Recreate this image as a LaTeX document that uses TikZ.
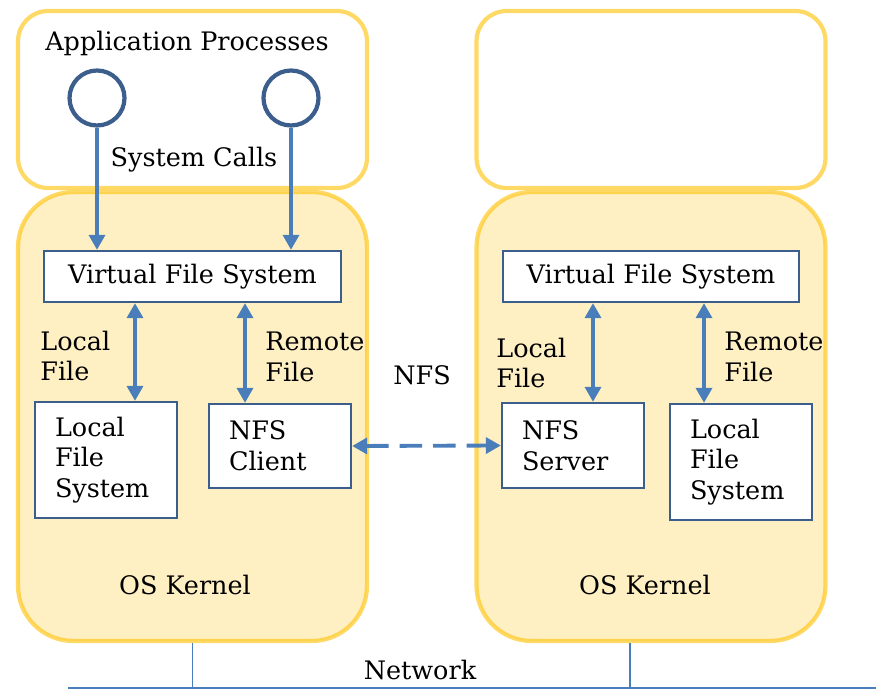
\documentclass[tikz,border=0pt]{standalone}
\usepackage{fontspec}
\setmainfont{DejaVu Serif}
\usetikzlibrary{arrows.meta}

\definecolor{gold}{HTML}{FFC000}
\definecolor{cream}{HTML}{FFF0C4}
\definecolor{arrowblue}{HTML}{4A7EBB}
\definecolor{darkblue}{HTML}{3B5E8C}

\tikzstyle{Host}=[rectangle, rounded corners=0.6cm, draw=gold, draw opacity=0.6, line width=2.4pt, minimum width=6.98cm, minimum height=3.54cm]
\tikzstyle{Kernel}=[rectangle, rounded corners=1.1cm, draw=gold, draw opacity=0.6, fill=cream, line width=2.4pt, minimum width=6.98cm, minimum height=8.98cm]
\tikzstyle{Proc}=[circle, draw=darkblue, line width=2.4pt, minimum size=1.1cm, inner sep=0]
\tikzstyle{Block}=[rectangle, draw=darkblue, line width=1.3pt, fill=white, text width=2.04cm, inner xsep=0.4cm, align=left, minimum width=2.84cm]
\tikzstyle{Vfs}=[rectangle, draw=darkblue, line width=1.3pt, fill=white, text width=5.5cm, align=center, minimum height=1.02cm]
\tikzstyle{Label}=[inner sep=0, align=left, anchor=west]
\tikzstyle{Call}=[draw=arrowblue, line width=2.2pt, -{Triangle[width=9pt,length=8.5pt]}]
\tikzstyle{Link}=[draw=arrowblue, line width=2.2pt, {Triangle[width=9pt,length=8.5pt]}-{Triangle[width=9pt,length=8.5pt]}]

\begin{document}
\begin{tikzpicture}[x=0.02cm, y=-0.02cm, font=\fontsize{14.5}{17.5}\selectfont]
    \useasboundingbox (0,0) rectangle (876,689);

    % hosts
    \path
    (192.5,99.5) node[Host] (appL) {}
    (651,99.5) node[Host] (appR) {}
    (192.5,416.5) node[Kernel] (kernL) {}
    (651,416.5) node[Kernel] (kernR) {};

    \path
    (187,43) node (apps) {Application Processes}
    (97,98) node[Proc] (procA) {}
    (291,98) node[Proc] (procB) {}
    (194,160) node (calls) {System Calls};

    % client side
    \path
    (192.5,276.5) node[Vfs, minimum width=5.94cm] (vfsL) {Virtual File System}
    (106,460) node[Block, minimum height=2.32cm] (lfsL) {Local\\File\\System}
    (280,446) node[Block, minimum height=1.68cm] (nfsC) {NFS\\Client};

    % server side
    \path
    (651,276.5) node[Vfs, minimum width=5.92cm] (vfsR) {Virtual File System}
    (573,445.5) node[Block, minimum height=1.7cm] (nfsS) {NFS\\Server}
    (741,462) node[Block, minimum height=2.32cm] (lfsR) {Local\\File\\System};

    \path
    (40,356) node[Label] (locL) {Local\\File}
    (265,357) node[Label] (remL) {Remote\\File}
    (496,363) node[Label] (locR) {Local\\File}
    (724,357) node[Label] (remR) {Remote\\File}
    (422,375) node (nfs) {NFS}
    (185,585) node (osL) {OS Kernel}
    (645,585) node (osR) {OS Kernel}
    (420,670) node (net) {Network};

    \draw[Call] (procA.south) -- (procA.south |- vfsL.north);
    \draw[Call] (procB.south) -- (procB.south |- vfsL.north);

    \draw[Link] ([xshift=0.58cm]lfsL.north |- vfsL.south) -- ([xshift=0.58cm]lfsL.north);
    \draw[Link] ([xshift=-0.7cm]nfsC.north |- vfsL.south) -- ([xshift=-0.7cm]nfsC.north);
    \draw[Link] ([xshift=0.4cm]nfsS.north |- vfsR.south) -- ([xshift=0.4cm]nfsS.north);
    \draw[Link] ([xshift=-0.74cm]lfsR.north |- vfsR.south) -- ([xshift=-0.74cm]lfsR.north);

    \draw[Link, dash pattern=on 0.45cm off 0.22cm] (nfsC.east) -- (nfsS.west);

    % network
    \coordinate (netL) at (68,688);
    \coordinate (netR) at (876,688);
    \draw[arrowblue, line width=0.8pt] (netL) -- (netR);
    \draw[arrowblue, line width=0.8pt] (kernL.south) -- (kernL.south |- netL);
    \draw[arrowblue, line width=0.8pt] ([xshift=-0.42cm]kernR.south) -- ([xshift=-0.42cm]kernR.south |- netL);
\end{tikzpicture}
\end{document}
